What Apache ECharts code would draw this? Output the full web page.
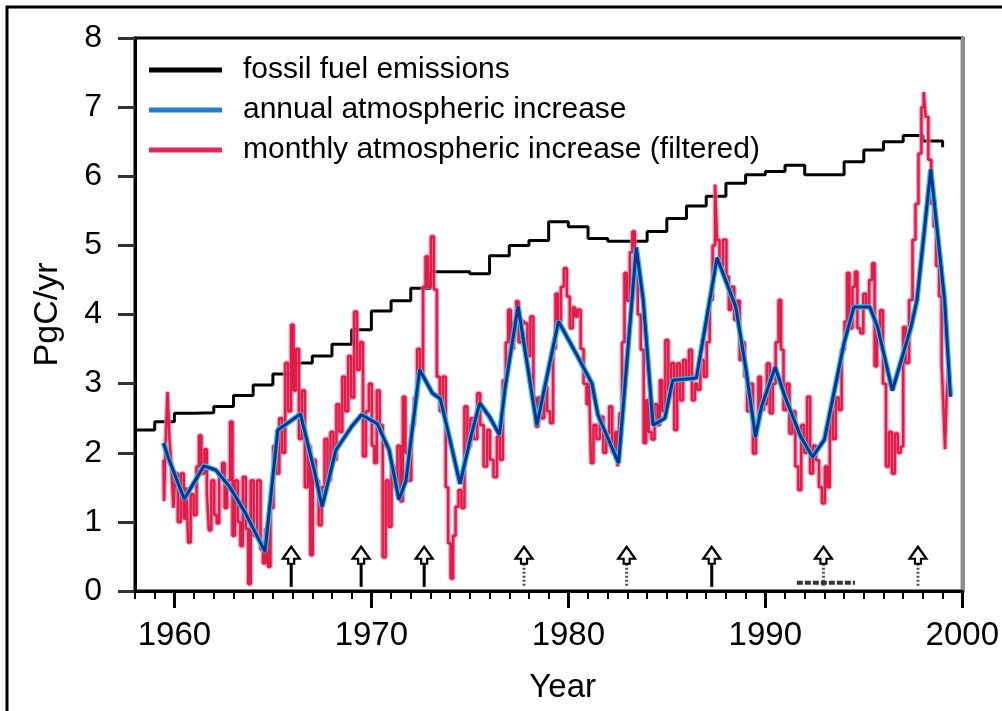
<!DOCTYPE html>
<html><head><meta charset="utf-8">
<script src="https://cdn.jsdelivr.net/npm/echarts@6/dist/echarts.min.js"></script>
<style>html,body{margin:0;padding:0;background:#fff}#c{width:1002px;height:711px}</style>
</head><body><div id="c"></div>
<script>
// ---------------- data ----------------
const fossilYears = [1958,1959,1960,1961,1962,1963,1964,1965,1966,1967,1968,1969,1970,1971,1972,1973,1974,1975,1976,1977,1978,1979,1980,1981,1982,1983,1984,1985,1986,1987,1988,1989,1990,1991,1992,1993,1994,1995,1996,1997,1998,1999];
const fossilValues = [2.33,2.45,2.57,2.58,2.67,2.83,2.98,3.14,3.30,3.40,3.57,3.78,4.05,4.20,4.38,4.62,4.62,4.59,4.85,5.00,5.07,5.34,5.27,5.10,5.06,5.06,5.20,5.39,5.57,5.71,5.90,6.02,6.07,6.16,6.02,6.02,6.21,6.38,6.50,6.59,6.51,6.42];

const annualYears = [1959.45,1959.7,1960.5,1961.5,1962.1,1962.8,1963.6,1964.6,1965.25,1965.85,1966.4,1967.1,1967.5,1968.2,1969.0,1969.5,1970.3,1970.9,1971.4,1971.76,1972.45,1973.1,1973.5,1973.9,1974.5,1975.05,1975.5,1976.0,1976.5,1976.8,1977.45,1978.4,1979.5,1980.5,1981.2,1981.5,1982.55,1983.45,1983.8,1984.3,1984.9,1985.3,1986.5,1987.55,1988.5,1989.0,1989.5,1989.8,1990.5,1991.0,1991.8,1992.4,1993.0,1994.0,1994.5,1995.3,1995.7,1996.45,1997.4,1997.7,1998.4,1999.1,1999.4];
const annualValues = [2.14,1.92,1.33,1.81,1.75,1.51,1.13,0.57,2.33,2.45,2.56,1.75,1.22,2.04,2.38,2.55,2.42,2.04,1.32,1.60,3.20,2.86,2.78,2.30,1.55,2.23,2.72,2.52,2.26,2.96,4.12,2.40,3.90,3.38,3.00,2.55,1.85,4.97,4.21,2.40,2.50,3.05,3.08,4.82,4.11,3.24,2.23,2.66,3.24,2.81,2.23,1.94,2.19,3.59,4.11,4.11,3.82,2.90,3.82,4.21,6.10,4.21,2.81];

const monthlyYears = [1959.45,1959.5,1959.6,1959.7,1959.8,1959.9,1960.0,1960.1,1960.25,1960.4,1960.55,1960.65,1960.75,1960.9,1961.05,1961.2,1961.3,1961.45,1961.6,1961.7,1961.8,1961.95,1962.1,1962.2,1962.35,1962.5,1962.6,1962.75,1962.9,1963.0,1963.15,1963.3,1963.4,1963.55,1963.7,1963.8,1963.95,1964.1,1964.3,1964.45,1964.55,1964.7,1964.8,1964.95,1965.1,1965.25,1965.4,1965.55,1965.7,1965.85,1966.0,1966.1,1966.25,1966.4,1966.55,1966.7,1966.85,1966.95,1967.1,1967.25,1967.4,1967.55,1967.7,1967.85,1968.0,1968.15,1968.3,1968.45,1968.6,1968.75,1968.9,1969.05,1969.2,1969.35,1969.5,1969.65,1969.8,1969.95,1970.1,1970.2,1970.35,1970.5,1970.65,1970.8,1970.95,1971.1,1971.25,1971.4,1971.55,1971.65,1971.8,1971.95,1972.1,1972.25,1972.4,1972.55,1972.7,1972.8,1972.95,1973.1,1973.25,1973.4,1973.55,1973.7,1973.85,1973.95,1974.1,1974.2,1974.35,1974.5,1974.65,1974.8,1974.95,1975.1,1975.3,1975.45,1975.6,1975.8,1975.95,1976.1,1976.3,1976.45,1976.6,1976.75,1976.9,1977.0,1977.15,1977.3,1977.4,1977.55,1977.7,1977.85,1978.0,1978.15,1978.3,1978.4,1978.55,1978.7,1978.85,1979.0,1979.15,1979.3,1979.4,1979.55,1979.7,1979.85,1980.0,1980.15,1980.3,1980.4,1980.55,1980.7,1980.85,1981.0,1981.1,1981.2,1981.35,1981.5,1981.7,1981.85,1982.0,1982.15,1982.3,1982.45,1982.55,1982.65,1982.8,1982.9,1983.05,1983.2,1983.3,1983.45,1983.6,1983.75,1983.9,1984.0,1984.15,1984.3,1984.45,1984.6,1984.7,1984.85,1985.0,1985.15,1985.3,1985.45,1985.6,1985.75,1985.9,1986.05,1986.2,1986.35,1986.5,1986.6,1986.8,1986.95,1987.1,1987.25,1987.4,1987.5,1987.6,1987.75,1987.95,1988.1,1988.2,1988.35,1988.5,1988.65,1988.75,1988.9,1989.0,1989.15,1989.3,1989.45,1989.6,1989.7,1989.85,1990.0,1990.15,1990.3,1990.45,1990.6,1990.75,1990.85,1991.0,1991.15,1991.3,1991.45,1991.6,1991.75,1991.9,1992.05,1992.2,1992.35,1992.5,1992.65,1992.8,1992.95,1993.1,1993.2,1993.35,1993.5,1993.65,1993.8,1993.95,1994.1,1994.2,1994.35,1994.5,1994.6,1994.75,1994.9,1995.05,1995.2,1995.35,1995.5,1995.6,1995.75,1995.9,1996.05,1996.2,1996.35,1996.5,1996.65,1996.8,1996.95,1997.05,1997.2,1997.4,1997.55,1997.7,1997.85,1998.0,1998.08,1998.2,1998.35,1998.5,1998.6,1998.75,1998.9,1999.0,1999.1,1999.15,1999.25,1999.35];
const monthlyValues = [1.90,1.30,2.10,2.88,2.20,1.80,1.20,1.70,1.00,1.70,1.05,1.50,0.70,1.40,1.10,1.80,2.25,1.70,2.05,1.40,0.88,1.60,1.10,0.98,1.70,1.85,1.20,1.60,2.45,0.80,1.60,1.00,0.65,1.65,0.90,0.10,1.60,0.80,1.60,0.60,0.40,0.90,0.35,1.20,2.10,1.70,2.50,2.00,3.30,2.60,3.85,2.90,3.50,2.20,2.90,1.50,2.10,0.52,1.90,1.60,0.95,1.50,2.20,1.60,2.30,1.90,2.70,2.30,3.10,2.60,3.40,2.80,4.04,3.20,3.60,1.95,2.60,3.00,2.10,1.85,2.90,2.40,0.49,1.60,0.93,1.80,1.50,2.10,1.30,2.81,2.00,1.60,2.40,2.80,3.50,3.10,4.40,4.84,4.40,5.13,4.36,3.10,2.60,3.10,1.50,0.69,0.18,0.80,1.22,1.46,1.20,2.67,2.09,2.50,2.20,2.86,2.40,1.80,2.33,1.90,1.65,2.23,1.90,3.05,3.60,4.07,3.50,3.90,4.19,3.60,3.90,3.87,3.40,3.97,2.80,2.38,2.80,2.50,2.96,2.60,2.43,3.50,4.30,3.90,4.40,4.67,4.26,3.80,4.10,3.97,4.07,3.50,3.00,2.70,3.05,1.85,2.40,2.20,2.52,2.00,2.28,2.67,2.00,2.30,1.80,2.57,3.60,4.60,4.20,4.90,5.20,4.55,4.00,3.49,2.14,2.76,2.30,2.19,2.70,2.40,3.05,2.60,3.63,2.90,3.30,2.33,3.29,2.76,3.34,3.10,3.49,2.76,3.00,2.91,3.34,3.10,3.60,4.21,5.00,5.88,5.08,4.70,5.08,4.55,4.07,4.40,3.92,4.20,3.34,3.60,3.10,2.60,3.00,1.99,2.40,3.10,2.62,2.70,3.29,2.57,3.00,3.60,4.21,3.49,2.62,3.00,2.28,2.60,1.80,1.46,2.40,2.00,2.81,1.70,2.10,1.89,1.50,1.27,1.80,1.50,2.62,2.20,2.80,2.62,3.49,3.90,4.60,3.80,4.40,4.62,3.80,3.73,4.30,4.11,4.50,4.74,3.25,3.70,4.06,3.00,1.80,2.30,1.70,2.28,2.00,2.09,3.82,3.30,4.21,5.08,5.60,6.33,7.00,7.22,6.86,6.24,5.60,5.27,4.70,4.26,3.30,2.60,2.05,2.80,3.20];

const solidArrowYears = [1965.93, 1969.48, 1972.68, 1987.28];
const dottedArrowYears = [1977.75, 1982.96, 1992.95, 1997.75];
const volcanicPeriod = [1991.6, 1994.55];

const xTickLabels = [1960, 1970, 1980, 1990, 2000];
const yTickLabels = [0, 1, 2, 3, 4, 5, 6, 7, 8];
const seriesNames = ['fossil fuel emissions', 'annual atmospheric increase', 'monthly atmospheric increase (filtered)'];
const yAxisTitle = 'PgC/yr';
const xAxisTitle = 'Year';

// ---------------- chart ----------------
const FONT = "'Liberation Sans', Arial, Helvetica, sans-serif";
const pairs = (xs, ys) => xs.map((x, i) => [x, ys[i]]);
const yearTicks = [];
for (let y = 1958; y <= 2000; y++) yearTicks.push(y);

function arrowRender(dotted) {
  return function (params, api) {
    const x = api.value(0);
    const tip = api.coord([x, 0.64]);
    const base = api.coord([x, 0.06]);
    const tx = tip[0], ty = tip[1];
    const head = [[tx, ty], [tx + 8.5, ty + 12], [tx + 3, ty + 12], [tx + 3, ty + 17], [tx - 3, ty + 17], [tx - 3, ty + 12], [tx - 8.5, ty + 12]];
    return {
      type: 'group',
      children: [
        { type: 'line', shape: { x1: tx, y1: ty + 17, x2: tx, y2: base[1] },
          style: { stroke: dotted ? '#555' : '#000', lineWidth: 3, lineDash: dotted ? [2, 2] : null } },
        { type: 'polygon', shape: { points: head }, style: { fill: '#fff', stroke: '#000', lineWidth: 2.2 } }
      ]
    };
  };
}

const chart = echarts.init(document.getElementById('c'), null, { renderer: 'canvas' });
chart.setOption({
  animation: false,
  backgroundColor: '#fff',
  textStyle: { fontFamily: FONT },
  graphic: [{ type: 'rect', shape: { x: 7, y: 7, width: 1100, height: 800 }, style: { fill: 'none', stroke: '#000', lineWidth: 3 }, silent: true }],
  grid: { left: 135, right: 37, top: 38, bottom: 120, show: true, borderColor: '#000', borderWidth: 3, backgroundColor: 'transparent' },
  legend: {
    orient: 'vertical', left: 144, top: 50, itemWidth: 73, itemHeight: 5, itemGap: 10, icon: 'rect',
    textStyle: { fontSize: 30, color: '#000', fontFamily: FONT, padding: [0, 0, 0, 16] },
    data: [
      { name: seriesNames[0], itemStyle: { color: '#000' } },
      { name: seriesNames[1], itemStyle: { color: '#1f7fd4' } },
      { name: seriesNames[2], itemStyle: { color: '#e8245c' } }
    ]
  },
  xAxis: [
    { type: 'value', min: 1958, max: 2000, position: 'bottom',
      axisLine: { show: true, lineStyle: { color: '#000', width: 3 } },
      axisTick: { show: true, customValues: yearTicks, length: 8, lineStyle: { color: '#000', width: 2 } },
      axisLabel: { customValues: xTickLabels, margin: 28, fontSize: 33, color: '#000', fontFamily: FONT,
        formatter: v => String(v) },
      splitLine: { show: false },
      name: xAxisTitle, nameLocation: 'middle', nameGap: 80,
      nameTextStyle: { fontSize: 33, color: '#000', fontFamily: FONT, padding: [0, 0, 0, 28] } },
    { type: 'value', min: 1958, max: 2000, position: 'bottom',
      axisLine: { show: false },
      axisTick: { show: true, customValues: xTickLabels, length: 17, lineStyle: { color: '#000', width: 3 } },
      axisLabel: { show: false }, splitLine: { show: false } }
  ],
  yAxis: [
    { type: 'value', min: 0, max: 8, interval: 1, position: 'left',
      axisLine: { show: true, lineStyle: { color: '#000', width: 3 } },
      axisTick: { show: true, length: 17, lineStyle: { color: '#333', width: 3 } },
      axisLabel: { margin: 33, fontSize: 32, color: '#000', fontFamily: FONT,
        formatter: v => (yTickLabels.indexOf(v) >= 0 ? String(v) : '') },
      splitLine: { show: false },
      name: yAxisTitle, nameLocation: 'middle', nameGap: 70, nameRotate: 90,
      nameTextStyle: { fontSize: 34, color: '#000', fontFamily: FONT } },
    { type: 'value', min: 0, max: 8, interval: 1, position: 'right',
      axisLine: { show: true, lineStyle: { color: '#8c8c8c', width: 4 } },
      axisTick: { show: false }, axisLabel: { show: false }, splitLine: { show: false } }
  ],
  series: [
    { name: seriesNames[0], type: 'line', step: 'end', showSymbol: false, silent: true,
      data: pairs(fossilYears, fossilValues), lineStyle: { color: '#000', width: 3 }, itemStyle: { color: '#000' } },
    { name: seriesNames[2], type: 'line', step: 'middle', showSymbol: false, silent: true,
      data: pairs(monthlyYears, monthlyValues), lineStyle: { color: '#f27aa3', width: 5, opacity: 0.7 }, itemStyle: { color: '#e8245c' } },
    { name: seriesNames[2], type: 'line', step: 'middle', showSymbol: false, silent: true,
      data: pairs(monthlyYears, monthlyValues), lineStyle: { color: '#e21c48', width: 2.5 }, itemStyle: { color: '#e8245c' } },
    { name: seriesNames[1], type: 'line', showSymbol: false, silent: true,
      data: pairs(annualYears, annualValues), lineStyle: { color: '#22c6e8', width: 5.5 }, itemStyle: { color: '#1f7fd4' } },
    { name: seriesNames[1], type: 'line', showSymbol: false, silent: true,
      data: pairs(annualYears, annualValues), lineStyle: { color: '#1b2d8c', width: 3 }, itemStyle: { color: '#1f7fd4' } },
    { name: 'volcanic', type: 'line', showSymbol: false, silent: true,
      data: volcanicPeriod.map(y => [y, 0.12]), lineStyle: { color: '#333', width: 4, type: [6, 2] } },
    { name: 'arrowsSolid', type: 'custom', silent: true, renderItem: arrowRender(false),
      data: solidArrowYears.map(y => [y]), encode: { x: 0 } },
    { name: 'arrowsDotted', type: 'custom', silent: true, renderItem: arrowRender(true),
      data: dottedArrowYears.map(y => [y]), encode: { x: 0 } }
  ]
});
</script>
</body></html>
